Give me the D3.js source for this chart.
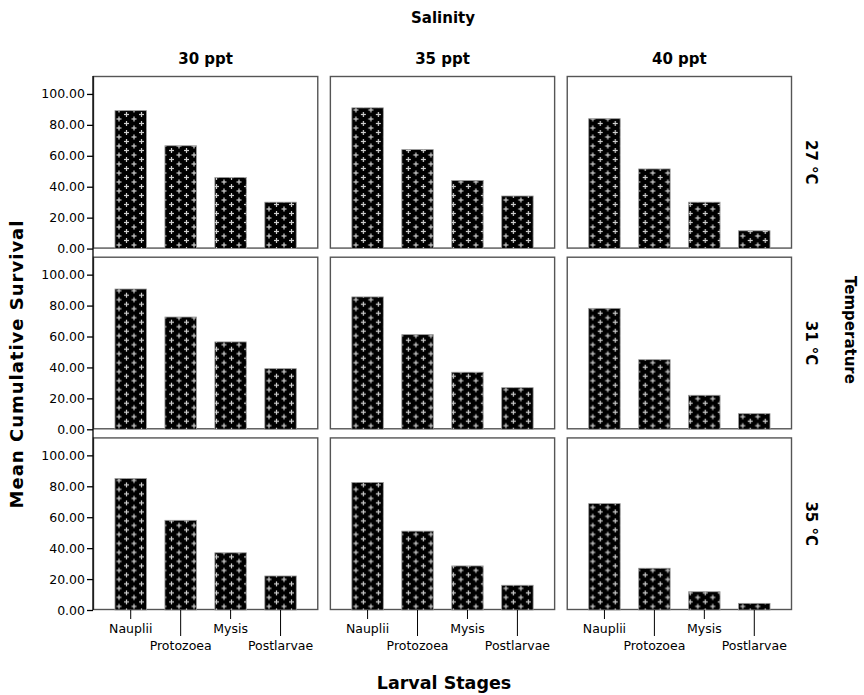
<!DOCTYPE html>
<html>
<head>
<meta charset="utf-8">
<script src="https://cdn.jsdelivr.net/npm/d3@7"></script>
<style>
  body { margin: 0; background: #fff; }
  svg { display: block; }
  .tick text { font-family: "DejaVu Sans", sans-serif; font-size: 12.5px; fill: #000; }
  .title { font-family: "DejaVu Sans", sans-serif; font-weight: bold; fill: #000; }
</style>
</head>
<body>
<div id="chart"></div>
<script>
/* ---- datos ---- */
const salinity = ["30 ppt", "35 ppt", "40 ppt"];
const temperature = ["27 °C", "31 °C", "35 °C"];
const stages = ["Nauplii", "Protozoea", "Mysis", "Postlarvae"];
const yTicks = [0, 20, 40, 60, 80, 100];

// supervivencia media por salinidad (30, 35, 40 ppt) y estadio
const survival27 = [
    [89.2, 66.5, 46.0, 30.0],
    [91.0, 64.0, 44.0, 34.0],
    [84.0, 51.5, 30.0, 11.5]
];
const survival31 = [
    [90.7, 72.6, 56.5, 39.2],
    [85.6, 61.2, 36.9, 26.9],
    [78.2, 45.0, 22.0, 10.1]
];
const survival35 = [
    [85.0, 58.0, 37.0, 22.0],
    [82.5, 51.0, 28.5, 16.0],
    [68.8, 27.0, 11.8, 4.3]
];
const survivalRows = [survival27, survival31, survival35];

/* ---- layout ---- */
const width = 864, height = 695;

const svg = d3.select("#chart").append("svg")
    .attr("width", width)
    .attr("height", height);

// trama de cruces
const defs = svg.append("defs");
const pat = defs.append("pattern")
    .attr("id", "cross")
    .attr("patternUnits", "userSpaceOnUse")
    .attr("width", 15)
    .attr("height", 9);
pat.append("rect").attr("width", 15).attr("height", 9).attr("fill", "#000");
[[3.5, 2.5], [11, 7], [11, -2], [18.5, 7], [-4, 7]].forEach(([cx, cy]) => {
    pat.append("rect").attr("x", cx - 2.5).attr("y", cy - 0.6).attr("width", 5).attr("height", 1.2).attr("fill", "#cfcfcf");
    pat.append("rect").attr("x", cx - 0.6).attr("y", cy - 2.5).attr("width", 1.2).attr("height", 5).attr("fill", "#cfcfcf");
});

const colScale = d3.scaleBand().domain(salinity).range([93, 792]).paddingInner(0.049);
const rowScale = d3.scaleBand().domain(temperature).range([76, 610]).paddingInner(0.045);

const panelW = colScale.bandwidth();
const panelH = rowScale.bandwidth();

const x = d3.scaleBand().domain(stages).range([0, panelW]).paddingInner(0.37).paddingOuter(0.44);
const y = d3.scaleLinear().domain([0, 111.6]).range([panelH, 0]);

/* ---- paneles ---- */
temperature.forEach((t, ri) => {
    salinity.forEach((s, ci) => {
        const g = svg.append("g")
            .attr("transform", `translate(${colScale(s)},${rowScale(t)})`);

        g.append("rect")
            .attr("x", 0.5).attr("y", 0.5)
            .attr("width", panelW - 1).attr("height", panelH - 1)
            .attr("fill", "none")
            .attr("stroke", "#555")
            .attr("stroke-width", 1.4);

        const vals = survivalRows[ri][ci];
        g.selectAll("rect.bar")
            .data(stages)
            .enter()
            .append("rect")
            .attr("class", "bar")
            .attr("x", d => x(d))
            .attr("width", x.bandwidth())
            .attr("y", (d, i) => y(vals[i]))
            .attr("height", (d, i) => panelH - y(vals[i]))
            .attr("fill", "url(#cross)")
            .attr("stroke", "#9a9a9a")
            .attr("stroke-width", 0.8);

        // eje x solo en la fila inferior
        if (ri === temperature.length - 1) {
            const ax = g.append("g")
                .attr("transform", `translate(0,${panelH})`)
                .call(d3.axisBottom(x).tickSizeOuter(0));
            ax.select(".domain").remove();
            ax.selectAll(".tick line")
                .attr("stroke", "#000")
                .attr("y2", (d, i) => i % 2 === 0 ? 9 : 26);
            ax.selectAll(".tick text")
                .attr("y", (d, i) => i % 2 === 0 ? 14 : 31);
        }
    });

    // eje y por fila
    const ay = svg.append("g")
        .attr("transform", `translate(93,${rowScale(t)})`)
        .call(d3.axisLeft(y).tickValues(yTicks).tickFormat(d3.format(".2f")).tickSize(6).tickPadding(2));
    ay.select(".domain").remove();
    ay.selectAll(".tick line").attr("stroke", "#000").attr("stroke-width", 1.3);

    // etiqueta de temperatura
    svg.append("text")
        .attr("class", "title")
        .attr("font-size", 15)
        .attr("text-anchor", "middle")
        .attr("transform", `translate(806,${rowScale(t) + panelH / 2}) rotate(90)`)
        .text(t);
});

// línea vertical continua del eje y
svg.append("line")
    .attr("x1", 93).attr("x2", 93)
    .attr("y1", 76).attr("y2", 610)
    .attr("stroke", "#000")
    .attr("stroke-width", 1.3);

/* ---- títulos ---- */
salinity.forEach(s => {
    svg.append("text")
        .attr("class", "title")
        .attr("font-size", 15)
        .attr("text-anchor", "middle")
        .attr("x", colScale(s) + panelW / 2)
        .attr("y", 64)
        .text(s);
});

svg.append("text")
    .attr("class", "title")
    .attr("font-size", 15)
    .attr("text-anchor", "middle")
    .attr("x", 443).attr("y", 23)
    .text("Salinity");

svg.append("text")
    .attr("class", "title")
    .attr("font-size", 17.5)
    .attr("text-anchor", "middle")
    .attr("x", 444).attr("y", 689)
    .text("Larval Stages");

svg.append("text")
    .attr("class", "title")
    .attr("font-size", 18)
    .attr("letter-spacing", 1)
    .attr("text-anchor", "middle")
    .attr("transform", "translate(23,364) rotate(-90)")
    .text("Mean Cumulative Survival");

svg.append("text")
    .attr("class", "title")
    .attr("font-size", 15)
    .attr("text-anchor", "middle")
    .attr("transform", "translate(845,330) rotate(90)")
    .text("Temperature");
</script>
</body>
</html>
